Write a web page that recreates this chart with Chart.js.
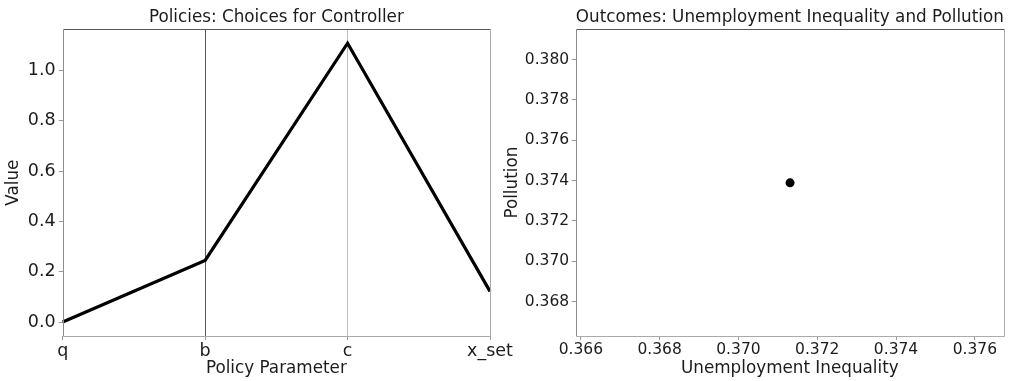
<!DOCTYPE html>
<html>
<head>
<meta charset="utf-8">
<script src="https://cdn.jsdelivr.net/npm/chart.js@4/dist/chart.umd.min.js"></script>
<style>
  html, body { margin: 0; padding: 0; background: #fff; width: 1021px; height: 381px; overflow: hidden; }
  .panel { position: absolute; top: 0; }
  #leftPanel { left: 0; width: 520px; height: 381px; }
  #rightPanel { left: 500px; width: 521px; height: 381px; }
</style>
</head>
<body>
<div class="panel" id="leftPanel"><canvas id="policyChart" width="520" height="381"></canvas></div>
<div class="panel" id="rightPanel"><canvas id="outcomeChart" width="521" height="381"></canvas></div>
<script>
// Policy parameters chosen by the controller
const policyParams = ['q', 'b', 'c', 'x_set'];
const policyValues = [0.0, 0.245, 1.108, 0.122];
const policyTicks = [0.0, 0.2, 0.4, 0.6, 0.8, 1.0];
const policyRange = [-0.0554, 1.1634];

// Resulting outcome
const inequalityValues = [0.37131];
const pollutionValues = [0.37389];
const inequalityTicks = [0.366, 0.368, 0.370, 0.372, 0.374, 0.376];
const pollutionTicks = [0.368, 0.370, 0.372, 0.374, 0.376, 0.378, 0.380];
const inequalityRange = [0.36587, 0.37674];
const pollutionRange = [0.3663, 0.3815];

const FONT = "'DejaVu Sans', sans-serif";
const TEXT = '#1c1c1c';
const LABEL_SIZE = 16.8;
Chart.defaults.font.family = FONT;
Chart.defaults.color = TEXT;
Chart.defaults.animation = false;

// Frame around the plotting area plus a centred title above it
const framePlugin = {
  id: 'frame',
  afterDraw(chart, args, opts) {
    const { ctx, chartArea: a } = chart;
    ctx.save();
    ctx.lineWidth = 1;
    const side = (color, x1, y1, x2, y2) => {
      ctx.strokeStyle = color;
      ctx.beginPath();
      ctx.moveTo(x1, y1);
      ctx.lineTo(x2, y2);
      ctx.stroke();
    };
    const l = Math.round(a.left) + 0.5, r = Math.round(a.right) + 0.5;
    const t = Math.round(a.top) + 0.5, b = Math.round(a.bottom) + 0.5;
    side('#555', l, t, r, t);
    side('#8c8c8c', l, t, l, b);
    side('#aaa', r, t, r, b);
    side('#aaa', l, b, r, b);
    if (opts.title) {
      ctx.fillStyle = TEXT;
      ctx.font = LABEL_SIZE + 'px ' + FONT;
      ctx.textAlign = 'center';
      ctx.textBaseline = 'middle';
      ctx.fillText(opts.title, (a.left + a.right) / 2, 18);
    }
    ctx.restore();
  }
};

const fixedTicks = (values) => (scale) => {
  scale.ticks = values.map(v => ({ value: v }));
};

new Chart(document.getElementById('policyChart'), {
  type: 'line',
  data: {
    labels: policyParams,
    datasets: [{
      data: policyValues,
      borderColor: '#000',
      borderWidth: 3.2,
      pointRadius: 0,
      tension: 0,
      fill: false
    }]
  },
  options: {
    responsive: false,
    devicePixelRatio: 1,
    layout: { padding: { top: 29.3, right: 30, bottom: 0, left: 0 } },
    plugins: {
      legend: { display: false },
      tooltip: { enabled: false },
      frame: { title: 'Policies: Choices for Controller' }
    },
    scales: {
      x: {
        type: 'category',
        offset: false,
        border: { display: false },
        grid: {
          display: true,
          drawOnChartArea: true,
          drawTicks: true,
          tickLength: 4,
          tickColor: '#999',
          color: (c) => c.index === 1 ? '#5a5a5a' : (c.index === 2 ? '#bdbdbd' : 'rgba(0,0,0,0)'),
          lineWidth: 1
        },
        ticks: { font: { size: 17.5 }, padding: 1, maxRotation: 0, autoSkip: false },
        title: { display: true, text: 'Policy Parameter', font: { size: LABEL_SIZE }, padding: { top: 0, bottom: 2 } },
        afterFit: (s) => { s.height = 45; }
      },
      y: {
        type: 'linear',
        min: policyRange[0],
        max: policyRange[1],
        afterBuildTicks: fixedTicks(policyTicks),
        border: { display: false },
        grid: { display: true, drawOnChartArea: false, tickLength: 4, tickColor: '#999' },
        ticks: { font: { size: 17.5 }, padding: 3, callback: (v) => v.toFixed(1) },
        title: { display: true, text: 'Value', font: { size: LABEL_SIZE }, padding: { top: 3.4, bottom: 0 } },
        afterFit: (s) => { s.width = 62.7; }
      }
    }
  },
  plugins: [framePlugin]
});

new Chart(document.getElementById('outcomeChart'), {
  type: 'scatter',
  data: {
    datasets: [{
      data: inequalityValues.map((x, i) => ({ x, y: pollutionValues[i] })),
      backgroundColor: '#000',
      borderColor: '#000',
      pointRadius: 4.5,
      pointBorderWidth: 0
    }]
  },
  options: {
    responsive: false,
    devicePixelRatio: 1,
    layout: { padding: { top: 29.3, right: 17, bottom: 0, left: 0 } },
    plugins: {
      legend: { display: false },
      tooltip: { enabled: false },
      frame: { title: 'Outcomes: Unemployment Inequality and Pollution' }
    },
    scales: {
      x: {
        type: 'linear',
        min: inequalityRange[0],
        max: inequalityRange[1],
        afterBuildTicks: fixedTicks(inequalityTicks),
        border: { display: false },
        grid: { display: true, drawOnChartArea: false, tickLength: 4, tickColor: '#999' },
        ticks: { font: { size: 15.5 }, padding: 1, maxRotation: 0, autoSkip: false, callback: (v) => v.toFixed(3) },
        title: { display: true, text: 'Unemployment Inequality', font: { size: LABEL_SIZE }, padding: { top: 0, bottom: 2 } },
        afterFit: (s) => { s.height = 45; }
      },
      y: {
        type: 'linear',
        min: pollutionRange[0],
        max: pollutionRange[1],
        afterBuildTicks: fixedTicks(pollutionTicks),
        border: { display: false },
        grid: { display: true, drawOnChartArea: false, tickLength: 4, tickColor: '#999' },
        ticks: { font: { size: 15.5 }, padding: 2.5, callback: (v) => v.toFixed(3) },
        title: { display: true, text: 'Pollution', font: { size: LABEL_SIZE }, padding: { top: 2.4, bottom: 0 } },
        afterFit: (s) => { s.width = 75.7; }
      }
    }
  },
  plugins: [framePlugin]
});
</script>
</body>
</html>
